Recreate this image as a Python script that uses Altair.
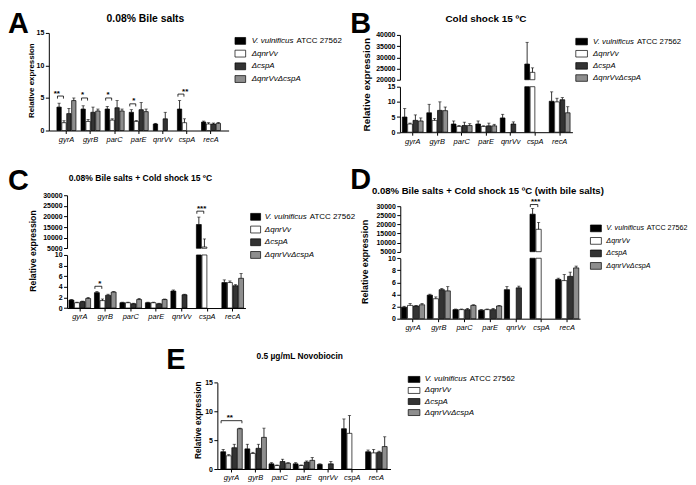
import altair as alt
import pandas as pd

FONT = "Liberation Sans"
W, H = 680, 469

genes = ["gyrA", "gyrB", "parC", "parE", "qnrVv", "cspA", "recA"]
strains = ["wt", "dq", "dc", "dqdc"]
strain_names = ["V. vulnificus", "ΔqnrVv", "ΔcspA", "ΔqnrVvΔcspA"]
strain_suffix = "ATCC 27562"
fills = ["#000000", "#ffffff", "#333333", "#8e8e8e"]

# ---------- Panel A: 0.08% Bile salts ----------
a_wt = [3.6, 3.3, 3.3, 2.8, 1.0, 3.3, 1.3]
a_dq = [1.2, 1.4, 1.6, 1.4, None, 1.2, 1.0]
a_dc = [2.6, 2.8, 3.5, 3.2, 1.8, None, 1.0]
a_dqdc = [4.6, 3.0, 3.0, 2.9, None, None, 1.1]
a_sd_wt = [0.6, 0.5, 0.4, 0.4, 0.1, 1.3, 0.15]
a_sd_dq = [0.3, 0.3, 0.2, 0.15, None, 0.6, 0.2]
a_sd_dc = [0.8, 0.8, 1.1, 1.1, 1.0, None, 0.15]
a_sd_dqdc = [0.4, 0.3, 0.3, 0.4, None, None, 0.15]
a_br_gene = ["gyrA", "gyrB", "parC", "parE", "cspA"]
a_br_from = ["wt", "wt", "wt", "wt", "wt"]
a_br_to = ["dq", "dq", "dq", "dq", "dq"]
a_br_y = [5.3, 5.0, 5.0, 4.1, 5.6]
a_br_txt = ["**", "*", "*", "*", "**"]

# ---------- Panel B: Cold shock 15 ºC ----------
b_wt = [5.0, 6.4, 2.7, 2.7, 4.7, 27000, 10.2]
b_dq = [2.7, 3.9, 1.9, 1.9, None, 23300, 10.0]
b_dc = [3.9, 7.2, 2.2, 2.1, 2.7, None, 10.7]
b_dqdc = [3.7, 7.1, 2.2, 2.1, None, None, 6.4]
b_sd_wt = [2.8, 2.8, 1.0, 1.0, 1.2, 9700, 3.1]
b_sd_dq = [0.3, 0.6, 0.3, 0.2, None, 2000, 1.2]
b_sd_dc = [1.8, 2.8, 1.1, 0.9, 0.7, None, 0.7]
b_sd_dqdc = [1.0, 1.2, 0.6, 0.5, None, None, 2.0]

# ---------- Panel C: Bile salts + Cold shock ----------
c_wt = [1.5, 2.9, 1.0, 1.0, 3.2, 16200, 4.8]
c_dq = [1.0, 1.4, 1.0, 1.0, None, 5600, 4.8]
c_dc = [1.2, 2.4, 0.8, 0.8, 2.5, None, 4.2]
c_dqdc = [1.8, 3.0, 1.6, 1.6, None, None, 5.6]
c_sd_wt = [0.1, 0.2, 0.1, 0.1, 0.2, 3500, 0.5]
c_sd_dq = [0.1, 0.3, 0.1, 0.1, None, 3800, 0.3]
c_sd_dc = [0.1, 0.2, 0.1, 0.1, 0.1, None, 0.2]
c_sd_dqdc = [0.2, 0.1, 0.2, 0.1, None, None, 0.9]
c_br_gene = ["gyrB", "cspA"]
c_br_from = ["wt", "wt"]
c_br_to = ["dq", "dq"]
c_br_y = [4.1, 22500]
c_br_txt = ["*", "***"]

# ---------- Panel D: Bile salts + Cold shock (with bile salts) ----------
d_wt = [1.9, 3.9, 1.5, 1.4, 4.8, 25600, 6.5]
d_dq = [2.2, 3.3, 1.5, 1.5, None, 17300, 6.3]
d_dc = [2.1, 4.8, 1.5, 1.5, 5.1, None, 7.0]
d_dqdc = [2.3, 4.6, 2.2, 2.1, None, None, 8.4]
d_sd_wt = [0.15, 0.15, 0.1, 0.1, 0.5, 3100, 0.2]
d_sd_dq = [0.3, 0.3, 0.1, 0.1, None, 3800, 1.0]
d_sd_dc = [0.1, 0.2, 0.2, 0.2, 0.3, None, 0.7]
d_sd_dqdc = [0.2, 0.7, 0.1, 0.1, None, None, 0.3]
d_br_gene = ["cspA"]
d_br_from = ["wt"]
d_br_to = ["dq"]
d_br_y = [30900]
d_br_txt = ["***"]

# ---------- Panel E: 0.5 µg/mL Novobiocin ----------
e_wt = [3.0, 3.5, 0.9, 0.9, 0.8, 7.0, 3.0]
e_dq = [2.3, 2.7, 0.6, 0.6, None, 6.2, 2.8]
e_dc = [3.7, 3.6, 1.3, 1.2, 0.9, None, 2.9]
e_dqdc = [7.0, 5.5, 1.0, 1.5, None, None, 3.9]
e_sd_wt = [0.4, 0.8, 0.2, 0.2, 0.1, 1.7, 0.3]
e_sd_dq = [0.2, 0.2, 0.1, 0.1, None, 3.1, 0.6]
e_sd_dc = [0.6, 0.7, 0.4, 0.2, 0.4, None, 0.2]
e_sd_dqdc = [0.1, 1.6, 0.1, 0.5, None, None, 1.7]
e_br_gene = ["gyrA"]
e_br_from = ["wt"]
e_br_to = ["dqdc"]
e_br_y = [8.4]
e_br_txt = ["**"]


def table(means, sds):
    rows = []
    for s, ml, sl in zip(strains, means, sds):
        for g, m, e in zip(genes, ml, sl):
            if m is None:
                continue
            rows.append({"gene": g, "strain": s, "v": m, "e": e, "hi": m + e})
    return pd.DataFrame(rows)


def brackets(gs, fs, ts, ys, txts):
    return [dict(gene=g, s1=f, s2=t, y=y, txt=x) for g, f, t, y, x in zip(gs, fs, ts, ys, txts)]


fill_enc = alt.Fill("strain:N", scale=alt.Scale(domain=strains, range=fills), legend=None)


def panel(df, brk, geo):
    layers = []
    n = len(genes)
    step = geo["step"]
    po = max(0.0, (geo["first"] - geo["axis"]) / step - 0.5)
    r0 = geo["axis"]
    r1 = r0 + step * (n + 2 * po)
    pi = 0.12
    opo = (len(strains) - pi) * (1 / geo["frac"] - 1) / 2
    ostep = step / (len(strains) - pi + 2 * opo)
    xscale = alt.Scale(domain=genes, range=[r0, r1], paddingInner=0, paddingOuter=po)
    oscale = alt.Scale(domain=strains, paddingInner=pi, paddingOuter=opo)
    XO = alt.XOffset("strain:N", scale=oscale)
    segs = geo["segs"]
    low_max = segs[0]["dom"][1]
    for k, seg in enumerate(segs):
        lo, hi = seg["dom"]
        yscale = alt.Scale(domain=[lo, hi], range=seg["rng"], nice=False, zero=False)
        px_per = abs(seg["rng"][0] - seg["rng"][1]) / (hi - lo)
        if k == 0:
            sub = df.copy()
            sub["top"] = sub["v"].clip(upper=hi)
            sub["base"] = lo
            err = df[df["hi"] <= hi].copy()
            xaxis = alt.Axis(orient="bottom", offset=seg["rng"][0] - H, labelAngle=0,
                             labelFont=FONT, labelFontSize=7.5, labelFontStyle="italic",
                             labelPadding=2, tickSize=3, tickWidth=1, domainWidth=1,
                             labelOverlap=False)
            X = alt.X("gene:N", scale=xscale, axis=xaxis, title=None)
        else:
            sub = df[df["v"] > low_max].copy()
            sub["top"] = sub["v"]
            sub["base"] = lo
            err = sub.copy()
            X = alt.X("gene:N", scale=xscale, axis=None)
        yaxis = alt.Axis(orient="left", offset=-geo["axis"], values=seg["ticks"], format="d",
                         labelFont=FONT, labelFontSize=7, labelFontWeight="bold",
                         labelPadding=1.5, tickSize=3.5, tickWidth=1, domainWidth=1,
                         labelOverlap=False, labelFlush=False, zindex=1)
        layers.append(alt.Chart(sub).mark_bar(stroke="black", strokeWidth=0.7).encode(
            x=X, xOffset=XO,
            y=alt.Y("top:Q", scale=yscale, axis=yaxis, title=None),
            y2="base:Q", fill=fill_enc))
        Xn = alt.X("gene:N", scale=xscale, axis=None)
        Yn = lambda f: alt.Y(f, scale=yscale, axis=None)
        if len(err):
            layers.append(alt.Chart(err).mark_rule(color="black", strokeWidth=0.8).encode(
                x=Xn, xOffset=XO, y=Yn("v:Q"), y2="hi:Q"))
            layers.append(alt.Chart(err).mark_tick(color="black", thickness=0.8, size=3.2,
                                                   orient="horizontal").encode(
                x=Xn, xOffset=XO, y=Yn("hi:Q")))
        # significance brackets that fall in this segment
        leg = 2.6 / px_per
        for b in brk:
            if not (lo <= b["y"] <= hi * 1.1) or (k == 0 and b["y"] > hi):
                continue
            pts = pd.DataFrame({
                "gene": [b["gene"]] * 4,
                "strain": [b["s1"], b["s1"], b["s2"], b["s2"]],
                "y": [b["y"] - leg, b["y"], b["y"], b["y"] - leg],
                "k": [0, 1, 2, 3],
            })
            layers.append(alt.Chart(pts).mark_line(color="black", strokeWidth=0.8).encode(
                x=Xn, xOffset=XO, y=Yn("y:Q"), order="k:Q"))
            j1, j2 = strains.index(b["s1"]), strains.index(b["s2"])
            dx = ostep * (j1 + j2 + 1 - len(strains)) / 2
            tdf = pd.DataFrame({"gene": [b["gene"]], "y": [b["y"]], "t": [b["txt"]]})
            layers.append(alt.Chart(tdf).mark_text(font=FONT, fontSize=8, fontWeight="bold",
                                                   baseline="bottom", dx=dx, dy=1.5).encode(
                x=Xn, y=Yn("y:Q"), text="t:N"))
    return layers


def note(txt, x, y, size, weight="normal", style="normal", align="left", angle=0,
         baseline="alphabetic"):
    kw = dict(font=FONT, fontSize=size, fontWeight=weight, fontStyle=style, align=align,
              baseline=baseline, color="black")
    if angle:
        kw["angle"] = angle
    return alt.Chart(pd.DataFrame({"t": [txt]})).mark_text(**kw).encode(
        x=alt.value(x), y=alt.value(y), text="t:N")


def legend(g):
    df = pd.DataFrame({"idx": [0, 1, 2, 3], "strain": strains, "name": strain_names})
    ys = alt.Scale(domain=[0, 3], range=[g["c0"], g["c3"]], nice=False, zero=False)
    sw = alt.Chart(df).transform_calculate(
        lo="datum.idx - 0.27", hi="datum.idx + 0.27").mark_rect(
        stroke="black", strokeWidth=0.7).encode(
        x=alt.value(g["sx0"]), x2=alt.value(g["sx1"]),
        y=alt.Y("lo:Q", scale=ys, axis=None), y2="hi:Q", fill=fill_enc)
    txt = alt.Chart(df).mark_text(align="left", baseline="middle", font=FONT,
                                  fontSize=g["fs"], fontStyle="italic").encode(
        x=alt.value(g["tx"]), y=alt.Y("idx:Q", scale=ys, axis=None), text="name:N")
    suf = alt.Chart(pd.DataFrame({"idx": [0], "t": [strain_suffix]})).mark_text(
        align="left", baseline="middle", font=FONT, fontSize=g["fs"]).encode(
        x=alt.value(g["tx"] + g["off"]), y=alt.Y("idx:Q", scale=ys, axis=None), text="t:N")
    return [sw, txt, suf]


t15 = [0, 5, 10, 15]
t10 = [0, 2, 4, 6, 8, 10]
tB = [20000, 25000, 30000, 35000, 40000]
tCD = [5000, 10000, 15000, 20000, 25000, 30000]

geoA = dict(axis=41, first=58.7, step=24.2, frac=0.79,
            segs=[dict(dom=[0, 15], rng=[122, 24], ticks=t15)])
geoB = dict(axis=393.7, first=406.5, step=24.6, frac=0.85,
            segs=[dict(dom=[0, 15], rng=[123.7, 78], ticks=t15),
                  dict(dom=[20000, 40000], rng=[71, 26], ticks=tB)])
geoC = dict(axis=59.3, first=70.3, step=25.6, frac=0.85,
            segs=[dict(dom=[0, 10], rng=[300.3, 247], ticks=t10),
                  dict(dom=[5000, 30000], rng=[240.3, 187], ticks=tCD)])
geoD = dict(axis=394, first=405, step=25.8, frac=0.9,
            segs=[dict(dom=[0, 10], rng=[311, 250.3], ticks=t10),
                  dict(dom=[5000, 30000], rng=[243.7, 198], ticks=tCD)])
geoE = dict(axis=210.3, first=224.5, step=24.25, frac=0.89,
            segs=[dict(dom=[0, 15], rng=[462, 375.3], ticks=t15)])

layers = []
layers += panel(table([a_wt, a_dq, a_dc, a_dqdc], [a_sd_wt, a_sd_dq, a_sd_dc, a_sd_dqdc]),
                brackets(a_br_gene, a_br_from, a_br_to, a_br_y, a_br_txt), geoA)
layers += panel(table([b_wt, b_dq, b_dc, b_dqdc], [b_sd_wt, b_sd_dq, b_sd_dc, b_sd_dqdc]),
                [], geoB)
layers += panel(table([c_wt, c_dq, c_dc, c_dqdc], [c_sd_wt, c_sd_dq, c_sd_dc, c_sd_dqdc]),
                brackets(c_br_gene, c_br_from, c_br_to, c_br_y, c_br_txt), geoC)
layers += panel(table([d_wt, d_dq, d_dc, d_dqdc], [d_sd_wt, d_sd_dq, d_sd_dc, d_sd_dqdc]),
                brackets(d_br_gene, d_br_from, d_br_to, d_br_y, d_br_txt), geoD)
layers += panel(table([e_wt, e_dq, e_dc, e_dqdc], [e_sd_wt, e_sd_dq, e_sd_dc, e_sd_dqdc]),
                brackets(e_br_gene, e_br_from, e_br_to, e_br_y, e_br_txt), geoE)

# legends
layers += legend(dict(sx0=228, sx1=238.7, c0=32, c3=70.3, tx=244.7, fs=8, off=45))
layers += legend(dict(sx0=570.3, sx1=582, c0=32.7, c3=69.3, tx=587.7, fs=7.8, off=44))
layers += legend(dict(sx0=243.7, sx1=253.7, c0=208.7, c3=247, tx=258, fs=8, off=45))
layers += legend(dict(sx0=585, sx1=596, c0=220.3, c3=258, tx=601, fs=7.2, off=40.5))
layers += legend(dict(sx0=402, sx1=413.7, c0=372, c3=405.3, tx=418.7, fs=8, off=45))

# titles
layers += [
    note("0.08% Bile salts", 138, 12.7, 10.4, weight="bold", align="center"),
    note("Cold shock 15 ºC", 480, 13, 10, weight="bold", align="center"),
    note("0.08% Bile salts + Cold shock 15 ºC", 133, 173, 8.6, weight="bold", align="center"),
    note("0.08% Bile salts + Cold shock 15 ºC (with bile salts)", 482, 186, 9.6,
         weight="bold", align="center"),
    note("0.5 µg/mL Novobiocin", 293, 351, 8.4, weight="bold", align="center"),
]
# y-axis titles
layers += [
    note("Relative expression", 23.7, 72, 8, weight="bold", align="center", angle=270, baseline="middle"),
    note("Relative expression", 361, 76, 10, weight="bold", align="center", angle=270, baseline="middle"),
    note("Relative expression", 25.5, 243, 8.7, weight="bold", align="center", angle=270, baseline="middle"),
    note("Relative expression", 358.5, 254, 9, weight="bold", align="center", angle=270, baseline="middle"),
    note("Relative expression", 192, 413, 8.3, weight="bold", align="center", angle=270, baseline="middle"),
]
# panel letters
layers += [
    note("A", 0, 24, 29, weight="bold"),
    note("B", 343.7, 24, 29, weight="bold"),
    note("C", 0, 182, 29, weight="bold"),
    note("D", 343.7, 181, 29, weight="bold"),
    note("E", 159, 362, 29, weight="bold"),
]

chart = alt.layer(*layers).resolve_scale(
    x="independent", y="independent", xOffset="independent", fill="independent"
).properties(width=W, height=H, padding=0).configure_view(strokeWidth=0).configure_axis(
    grid=False, domainColor="black", tickColor="black", labelColor="black"
)

chart.save("out.html", embed_options={"renderer": "svg", "actions": False})
